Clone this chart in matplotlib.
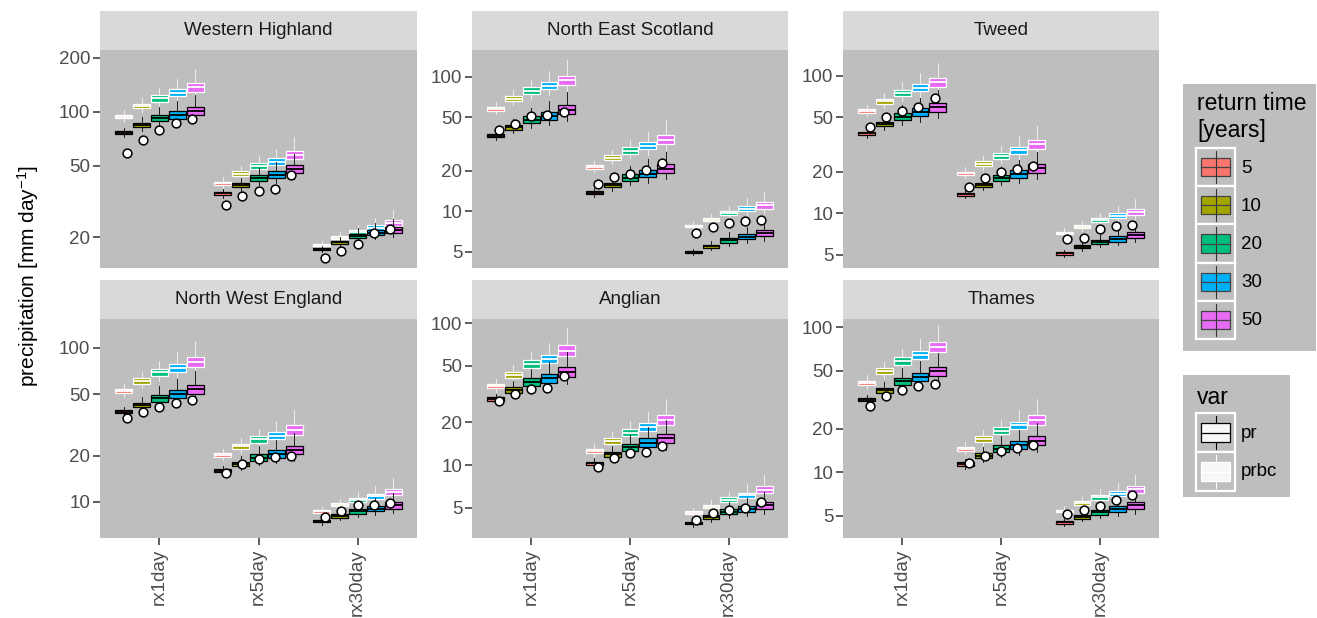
import matplotlib
matplotlib.use("Agg")
import matplotlib.pyplot as plt
import numpy as np
from matplotlib.patches import Rectangle
from matplotlib.ticker import NullLocator

plt.rcParams['font.family'] = ['Liberation Sans', 'DejaVu Sans']
plt.rcParams['mathtext.fontset'] = 'custom'
plt.rcParams['mathtext.rm'] = 'Liberation Sans'
plt.rcParams['mathtext.it'] = 'Liberation Sans:italic'

# categories
regions = ["Western Highland", "North East Scotland", "Tweed",
           "North West England", "Anglian", "Thames"]
durations = ["rx1day", "rx5day", "rx30day"]
return_times = ["5", "10", "20", "30", "50"]
colors = ["#F8766D", "#A3A500", "#00BF7D", "#00B0F6", "#E76BF3"]

# medians of pr / prbc, observed points  (rows: rx1day, rx5day, rx30day)
wh_pr = [[76.7, 84.6, 92.2, 96.3, 101.3], [35.2, 39.0, 42.7, 44.6, 47.9], [17.2, 18.8, 20.4, 21.2, 22.0]]
wh_bc = [[94.2, 108, 119, 128, 137], [40.0, 45.4, 50.0, 52.8, 57.6], [18.1, 19.9, 21.5, 22.6, 24.0]]
wh_obs = [[59.3, 69.5, 79.4, 86.5, 91.0], [30.3, 34.0, 36.4, 37.2, 44.4], [15.3, 16.7, 18.3, 21.1, 22.2]]

nes_pr = [[36.6, 42.1, 48.0, 51.4, 57.0], [13.8, 15.7, 17.8, 19.1, 20.8], [5.0, 5.5, 6.1, 6.5, 6.9]]
nes_bc = [[57.6, 68.7, 79.0, 85.8, 93.9], [21.4, 25.0, 28.3, 30.7, 34.1], [7.8, 8.7, 9.7, 10.5, 11.1]]
nes_obs = [[40.5, 44.9, 50.8, 52.0, 54.4], [15.9, 18.1, 18.8, 20.2, 22.7], [6.9, 7.6, 8.2, 8.5, 8.7]]

tw_pr = [[38.2, 44.6, 50.4, 54.2, 58.9], [13.8, 16.1, 18.1, 19.3, 21.2], [5.1, 5.7, 6.2, 6.5, 7.0]]
tw_bc = [[55.4, 65.5, 75.2, 81.8, 89.5], [19.5, 22.9, 26.1, 28.8, 31.7], [7.2, 8.0, 8.9, 9.6, 10.2]]
tw_obs = [[42.2, 50.4, 55.4, 59.5, 68.5], [15.6, 18.1, 20.1, 20.9, 22.1], [6.5, 6.6, 7.7, 8.1, 8.2]]

nwe_pr = [[38.5, 42.5, 47.0, 49.9, 53.8], [15.9, 17.6, 19.4, 20.4, 21.7], [7.5, 8.1, 8.7, 9.05, 9.5]]
nwe_bc = [[52.4, 60.9, 69.3, 74.2, 81.2], [20.1, 23.0, 25.5, 26.9, 29.3], [8.7, 9.6, 10.3, 10.9, 11.6]]
nwe_obs = [[35.2, 38.5, 41.5, 43.6, 45.8], [15.5, 17.6, 19.0, 19.5, 20.0], [8.0, 8.7, 9.5, 9.6, 9.9]]

an_pr = [[29.1, 33.8, 38.4, 40.9, 45.5], [10.3, 11.9, 13.3, 14.4, 15.4], [3.9, 4.3, 4.7, 4.9, 5.2]]
an_bc = [[35.9, 43.2, 51.4, 56.0, 64.0], [12.5, 14.8, 16.9, 18.5, 20.8], [4.6, 5.1, 5.7, 6.1, 6.7]]
an_obs = [[28.3, 31.6, 34.2, 34.8, 42.7], [9.7, 11.2, 12.2, 12.4, 13.6], [4.1, 4.6, 4.8, 5.0, 5.5]]

th_pr = [[31.6, 36.6, 42.3, 45.3, 49.5], [11.4, 13.0, 14.5, 15.4, 16.5], [4.5, 4.9, 5.3, 5.6, 5.9]]
th_bc = [[41.4, 49.8, 58.4, 64.5, 72.9], [14.5, 16.9, 19.3, 21.0, 23.0], [5.4, 6.1, 6.7, 7.1, 7.6]]
th_obs = [[28.6, 33.5, 36.9, 39.0, 40.6], [11.5, 12.9, 13.9, 14.7, 15.3], [5.1, 5.5, 5.8, 6.4, 7.0]]

# typical box / whisker spread per return time (log10 decades from median)
pr_iqr_half = [0.012, 0.017, 0.025, 0.030, 0.033]
pr_whisk_up = [0.035, 0.060, 0.090, 0.110, 0.130]
pr_whisk_dn = [0.035, 0.045, 0.060, 0.070, 0.085]
bc_iqr_half = [0.014, 0.019, 0.025, 0.028, 0.036]
bc_whisk_up = [0.050, 0.065, 0.080, 0.110, 0.150]
bc_whisk_dn = [0.040, 0.050, 0.060, 0.070, 0.080]
# how wide the spread is for each duration and region, relative to the above
duration_spread = [1.0, 0.95, 0.68]
region_spread = [0.7, 1.0, 0.95, 0.9, 1.05, 1.0]

panel_pr = [wh_pr, nes_pr, tw_pr, nwe_pr, an_pr, th_pr]
panel_bc = [wh_bc, nes_bc, tw_bc, nwe_bc, an_bc, th_bc]
panel_obs = [wh_obs, nes_obs, tw_obs, nwe_obs, an_obs, th_obs]
panel_yticks = [[20, 50, 100, 200], [5, 10, 20, 50, 100], [5, 10, 20, 50, 100],
                [10, 20, 50, 100], [5, 10, 20, 50, 100], [5, 10, 20, 50, 100]]
panel_ylim = [(13.5, 221.6), (3.8, 158), (4.0, 154), (5.84, 153.5), (3.06, 107), (3.51, 114)]

W, H = 1317, 618
PANEL_BG = "#BEBEBE"
STRIP_BG = "#D9D9D9"

fig = plt.figure(figsize=(W / 100, H / 100), dpi=100)


def frac(x0, y0, x1, y1):
    return [x0 / W, 1 - y1 / H, (x1 - x0) / W, (y1 - y0) / H]


cols = [(100, 417), (472, 788), (843, 1159)]
rows = [(50, 268), (319, 538)]
strips = [(11, 50), (280, 319)]

box_w = 0.17
box_step = 0.18
pt_step = 0.164


def stats_for(meds, iqr, up, dn, f):
    out = []
    for m, h, u, d in zip(meds, iqr, up, dn):
        out.append(dict(med=m, q1=m * 10 ** (-h * f), q3=m * 10 ** (h * f),
                        whislo=m * 10 ** (-d * f), whishi=m * 10 ** (u * f),
                        fliers=[]))
    return out


for i, region in enumerate(regions):
    r, c = divmod(i, 3)
    x0, x1 = cols[c]
    y0, y1 = rows[r]
    ax = fig.add_axes(frac(x0, y0, x1, y1))
    ax.set_facecolor(PANEL_BG)
    ax.set_yscale('log')

    for g in range(3):
        offs = (np.arange(5) - 2)
        xb = g + 1 + offs * box_step
        xp = g + 1 + offs * pt_step
        f = duration_spread[g] * region_spread[i]

        # bias-corrected boxes (white outline)
        st = stats_for(panel_bc[i][g], bc_iqr_half, bc_whisk_up, bc_whisk_dn, f)
        b = ax.bxp(st, positions=xb, widths=box_w, patch_artist=True,
                   showfliers=False, showcaps=False, manage_ticks=False,
                   boxprops=dict(edgecolor='white', linewidth=0.9),
                   medianprops=dict(color='white', linewidth=1.3),
                   whiskerprops=dict(color='white', linewidth=0.6, alpha=0.85),
                   zorder=2)
        for patch, col in zip(b['boxes'], colors):
            patch.set_facecolor(col)

        # raw model boxes (black outline)
        st = stats_for(panel_pr[i][g], pr_iqr_half, pr_whisk_up, pr_whisk_dn, f)
        b = ax.bxp(st, positions=xb, widths=box_w, patch_artist=True,
                   showfliers=False, showcaps=False, manage_ticks=False,
                   boxprops=dict(edgecolor='black', linewidth=0.9),
                   medianprops=dict(color='black', linewidth=1.3),
                   whiskerprops=dict(color='black', linewidth=0.6),
                   zorder=3)
        for patch, col in zip(b['boxes'], colors):
            patch.set_facecolor(col)

        ax.scatter(xp, panel_obs[i][g], s=40, facecolor='white',
                   edgecolor='black', linewidth=1.1, zorder=5)

    ax.set_xlim(0.4, 3.6)
    ax.set_ylim(*panel_ylim[i])
    ax.set_yticks(panel_yticks[i], [str(t) for t in panel_yticks[i]])
    ax.yaxis.set_minor_locator(NullLocator())
    ax.tick_params(axis='y', length=5, width=1.1, color='#333333',
                   labelcolor='#4D4D4D', labelsize=13.5, pad=2)
    if r == 1:
        ax.set_xticks([1, 2, 3], durations, rotation=90)
        ax.tick_params(axis='x', length=5, width=1.1, color='#333333',
                       labelcolor='#4D4D4D', labelsize=13.5, pad=3)
    else:
        ax.set_xticks([])
    for sp in ax.spines.values():
        sp.set_visible(False)

    # strip
    s0, s1 = strips[r]
    sax = fig.add_axes(frac(x0, s0, x1, s1))
    sax.set_facecolor(STRIP_BG)
    sax.set_xticks([])
    sax.set_yticks([])
    for sp in sax.spines.values():
        sp.set_visible(False)
    sax.text(0.5, 0.5, region, ha='center', va='center', fontsize=13.5,
             color='#1A1A1A', transform=sax.transAxes)

fig.text(28 / W, 1 - 276 / H, 'precipitation [mm day$^{-1}$]', rotation=90,
         ha='center', va='center', fontsize=15, color='black')

# legends, drawn in pixel coordinates
lax = fig.add_axes([0, 0, 1, 1], zorder=10)
lax.set_xlim(0, W)
lax.set_ylim(H, 0)
lax.axis('off')
lax.patch.set_alpha(0)

lax.add_patch(Rectangle((1183, 84), 133, 267, facecolor=PANEL_BG, edgecolor='none'))
lax.text(1197, 104, 'return time', fontsize=16.5, va='center', ha='left')
lax.text(1197, 130, '[years]', fontsize=16.5, va='center', ha='left')
key_h = 38.2
for k, (lab, col) in enumerate(zip(return_times, colors)):
    ky = 148 + k * key_h
    lax.add_patch(Rectangle((1196, ky), 39, key_h, facecolor=PANEL_BG,
                            edgecolor='white', linewidth=1.6))
    lax.plot([1215.5, 1215.5], [ky + 3, ky + key_h - 3], color='#333333', lw=0.8)
    lax.add_patch(Rectangle((1201, ky + 10), 29, key_h - 20, facecolor=col,
                            edgecolor='#444444', linewidth=0.9))
    lax.plot([1201, 1230], [ky + key_h / 2] * 2, color='#444444', lw=0.9)
    lax.text(1241, ky + key_h / 2 + 1, lab, fontsize=13.5, va='center', ha='left')

var_labels = ["pr", "prbc"]
var_edges = ["black", "white"]
lax.add_patch(Rectangle((1183, 375), 107, 122, facecolor=PANEL_BG, edgecolor='none'))
lax.text(1197, 397, 'var', fontsize=16.5, va='center', ha='left')
for k, (lab, ec) in enumerate(zip(var_labels, var_edges)):
    ky = 413 + k * 39
    lax.add_patch(Rectangle((1196, ky), 39, 39, facecolor=PANEL_BG,
                            edgecolor='white', linewidth=1.6))
    lax.plot([1215.5, 1215.5], [ky + 3, ky + 36], color=ec, lw=0.8)
    lax.add_patch(Rectangle((1201, ky + 10), 29, 19, facecolor='#F7F7F7',
                            edgecolor=ec, linewidth=0.9, zorder=3))
    lax.plot([1201, 1230], [ky + 19.5] * 2, color=ec, lw=0.9, zorder=4)
    lax.text(1241, ky + 20, lab, fontsize=13.5, va='center', ha='left')

fig.savefig("out.png", dpi=100)
